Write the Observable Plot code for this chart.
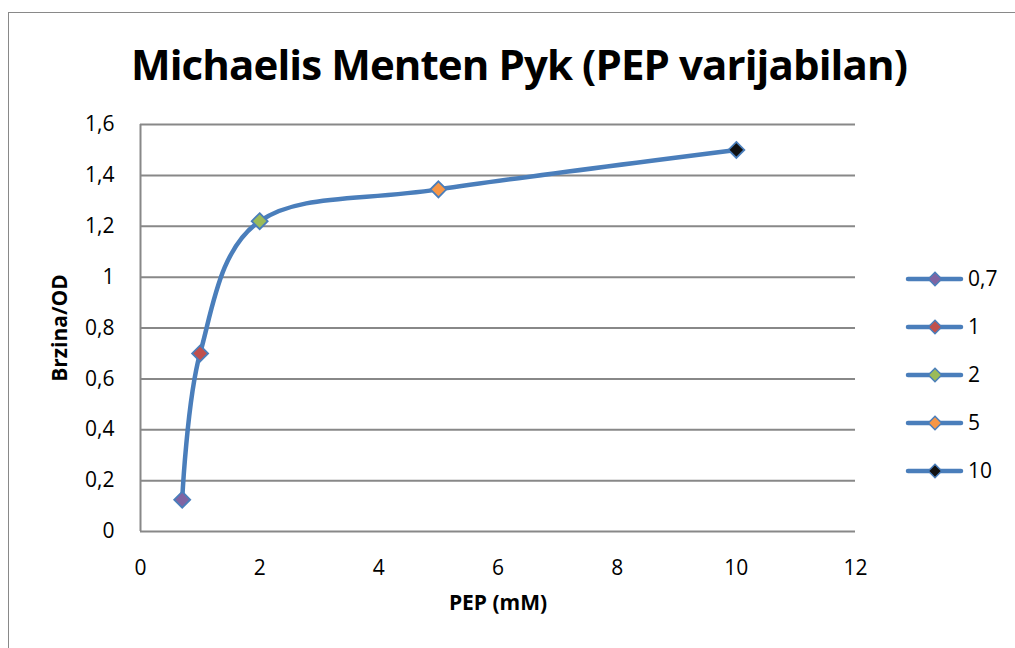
<!DOCTYPE html>
<html>
<head>
<meta charset="utf-8">
<script src="https://cdn.jsdelivr.net/npm/d3@7"></script>
<script src="https://cdn.jsdelivr.net/npm/@observablehq/plot@0.6"></script>
<style>
  html, body { margin: 0; padding: 0; background: #fff; }
  #wrap { position: relative; width: 1015px; height: 648px; overflow: hidden; background: #fff; font-family: "Open Sans", sans-serif; }
  #frame { position: absolute; left: 8px; top: 12px; width: 1020px; height: 660px; border: 1.5px solid #898989; box-sizing: border-box; }
  #title { position: absolute; left: 0; top: 43px; width: 1038px; text-align: center; font-family: "Open Sans", sans-serif; font-weight: 700; font-size: 42px; line-height: 1; letter-spacing: -0.9px; color: #000; white-space: nowrap; }
  #chart { position: absolute; left: 0; top: 0; }
  #legend { position: absolute; left: 0; top: 0; }
</style>
</head>
<body>
<div id="wrap">
  <div id="frame"></div>
  <div id="chart"></div>
  <div id="title">Michaelis Menten Pyk (PEP varijabilan)</div>
  <svg id="legend" width="1015" height="648"></svg>
</div>
<script>
// Data
const pep = [0.7, 1, 2, 5, 10];
const rate = [0.125, 0.7, 1.22, 1.345, 1.5];
const labels = ["0,7", "1", "2", "5", "10"];
const markerColors = ["#8064A2", "#C0504D", "#9BBB59", "#F79646", "#111111"];
const xTicks = [0, 2, 4, 6, 8, 10, 12];
const yTicks = [0, 0.2, 0.4, 0.6, 0.8, 1, 1.2, 1.4, 1.6];
const yTickLabels = ["0", "0,2", "0,4", "0,6", "0,8", "1", "1,2", "1,4", "1,6"];

const lineColor = "#4A7EBB";
const gridColor = "#888888";

const data = pep.map((x, i) => ({x, y: rate[i], label: labels[i], color: markerColors[i]}));

const chart = Plot.plot({
  width: 1015,
  height: 648,
  marginLeft: 140,
  marginRight: 160,
  marginTop: 124,
  marginBottom: 117,
  style: {fontFamily: "Open Sans, sans-serif", fontSize: "21px", color: "#000", background: "transparent", overflow: "visible"},
  x: {domain: [0, 12]},
  y: {domain: [0, 1.6]},
  marks: [
    Plot.ruleY(yTicks, {stroke: gridColor, strokeWidth: 2}),
    Plot.ruleX([0], {stroke: gridColor, strokeWidth: 2}),
    Plot.axisY({ticks: yTicks, tickSize: 0, tickPadding: 26, tickFormat: d => yTickLabels[yTicks.indexOf(d)], fontSize: 21, label: null}),
    Plot.axisX({ticks: xTicks, tickSize: 0, tickPadding: 29, tickFormat: d => String(d), fontSize: 21, label: null}),
    Plot.text(["Brzina/OD"], {frameAnchor: "left", textAnchor: "middle", rotate: -90, dx: -80, fontWeight: "bold", fontSize: 21}),
    Plot.text(["PEP (mM)"], {frameAnchor: "bottom", textAnchor: "middle", dy: 78, fontWeight: "bold", fontSize: 21}),
    Plot.line(data, {x: "x", y: "y", curve: "cardinal", stroke: lineColor, strokeWidth: 4.5, strokeLinecap: "round"}),
    Plot.dot(data, {x: "x", y: "y", symbol: "diamond2", r: 7.2, fill: "color", stroke: lineColor, strokeWidth: 1.8})
  ]
});
document.getElementById("chart").appendChild(chart);

// Legend
const leg = d3.select("#legend");
const legY0 = 279, legStep = 48;
const g = leg.selectAll("g").data(data).join("g")
  .attr("transform", (d, i) => `translate(0,${legY0 + i * legStep})`);
g.append("line").attr("x1", 908).attr("x2", 961).attr("y1", 0).attr("y2", 0)
  .attr("stroke", lineColor).attr("stroke-width", 4.5).attr("stroke-linecap", "round");
g.append("path").attr("transform", "translate(935,0)")
  .attr("d", d3.symbol(d3.symbolDiamond2, Math.PI * 6 * 6)())
  .attr("fill", d => d.color).attr("stroke", lineColor).attr("stroke-width", 1.5);
g.append("text").attr("x", 968).attr("y", 0).attr("dy", "0.35em")
  .attr("font-family", "Open Sans, sans-serif").attr("font-size", 21).text(d => d.label);
</script>
</body>
</html>
